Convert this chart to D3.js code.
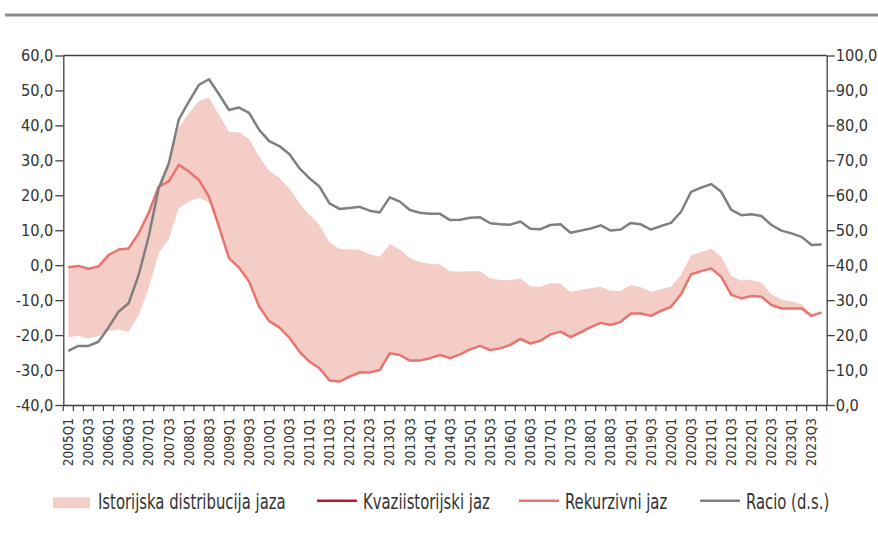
<!DOCTYPE html>
<html>
<head>
<meta charset="utf-8">
<script src="https://cdn.jsdelivr.net/npm/d3@7"></script>
<style>
  body { margin: 0; background: #fff; }
  text { font-family: "DejaVu Sans Condensed", "Liberation Sans Narrow", sans-serif; fill: #333; }
</style>
</head>
<body>
<svg id="chart"></svg>
<script>
// quarters 2005Q1 .. 2023Q4
const years = d3.range(2005, 2024);
const quarters = years.flatMap(y => [1, 2, 3, 4].map(q => y + "Q" + q));
const labelQuarters = quarters.filter((d, i) => i % 2 === 0);

// Rekurzivni jaz (left axis)
const rekurzivni = [
  -0.6, -0.2, -1.0, -0.4, 2.9, 4.5, 4.8, 9.1, 15.0, 22.5,
  24.0, 28.7, 26.8, 24.4, 19.6, 11.0, 2.0, -0.7, -4.7, -11.9,
  -16.0, -17.8, -20.7, -24.7, -27.6, -29.5, -33.0, -33.3, -31.9, -30.7,
  -30.7, -30.0, -25.2, -25.7, -27.3, -27.3, -26.6, -25.7, -26.6, -25.5,
  -24.1, -23.1, -24.3, -23.8, -22.8, -21.1, -22.4, -21.6, -19.8, -19.0,
  -20.6, -19.2, -17.7, -16.5, -17.1, -16.2, -13.8, -13.8, -14.5, -13.1,
  -11.9, -8.3, -2.6, -1.7, -0.9, -3.3, -8.5, -9.5, -8.8, -9.0,
  -11.4, -12.4, -12.4, -12.4, -14.5, -13.5
];

// Racio (right axis)
const racio = [
  15.5, 16.9, 16.9, 18.1, 22.2, 26.7, 29.1, 37.2, 48.2, 62.0,
  69.1, 81.7, 86.8, 91.6, 93.2, 88.9, 84.4, 85.1, 83.6, 78.7,
  75.5, 74.1, 71.8, 67.8, 64.9, 62.5, 57.7, 56.1, 56.4, 56.7,
  55.6, 55.1, 59.4, 58.2, 55.8, 55.0, 54.7, 54.7, 52.9, 53.0,
  53.6, 53.7, 52.0, 51.7, 51.6, 52.5, 50.4, 50.3, 51.5, 51.7,
  49.3, 49.9, 50.5, 51.4, 49.9, 50.2, 52.1, 51.7, 50.2, 51.2,
  52.1, 55.3, 61.0, 62.2, 63.2, 61.0, 55.8, 54.3, 54.6, 54.1,
  51.5, 49.9, 49.1, 48.1, 45.8, 45.9
];

// Istorijska distribucija jaza - upper and lower bound
const bandHigh = [
  -0.6, -0.2, -1.0, -0.4, 2.9, 4.5, 4.8, 9.1, 15.0, 22.7,
  30.0, 39.4, 43.5, 47.0, 48.0, 43.0, 38.2, 38.0, 36.2, 31.0,
  27.0, 25.0, 22.0, 17.7, 14.4, 11.5, 6.5, 4.6, 4.5, 4.4,
  3.1, 2.4, 6.1, 4.5, 2.0, 0.9, 0.4, 0.2, -1.7, -1.8,
  -1.7, -1.7, -3.7, -4.2, -4.3, -3.8, -6.0, -6.2, -5.2, -5.3,
  -7.7, -7.1, -6.6, -6.2, -7.3, -7.3, -5.7, -6.3, -7.6, -6.9,
  -6.2, -2.8, 2.9, 3.7, 4.8, 2.4, -3.1, -4.4, -4.2, -5.0,
  -8.3, -9.8, -10.4, -11.2, -14.0, -13.5
];
const bandLow = [
  -20.6, -20.2, -21.0, -20.3, -18.8, -18.4, -19.1, -14.3, -6.6, 3.4,
  7.4, 16.3, 18.2, 19.2, 18.0, 11.0, 2.0, -0.7, -4.7, -11.9,
  -16.0, -17.8, -20.7, -24.7, -27.6, -29.5, -33.0, -33.3, -31.9, -30.7,
  -30.7, -30.0, -25.2, -25.7, -27.3, -27.3, -26.6, -25.7, -26.6, -25.5,
  -24.1, -23.1, -24.3, -23.8, -22.8, -21.1, -22.4, -21.6, -19.8, -19.0,
  -20.6, -19.2, -17.7, -16.5, -17.1, -16.2, -13.8, -13.8, -14.5, -13.1,
  -11.9, -8.3, -2.6, -1.7, -0.9, -3.3, -8.5, -9.5, -8.8, -9.0,
  -11.4, -12.4, -12.4, -12.4, -14.5, -13.5
];

const leftTicks = d3.range(-40, 61, 10);
const rightTicks = d3.range(0, 101, 10);

const legendItems = [
  {name: "Istorijska distribucija jaza", type: "area", color: "#f5cdc7", x: 53},
  {name: "Kvaziistorijski jaz", type: "line", color: "#c8102e", x: 317},
  {name: "Rekurzivni jaz", type: "line", color: "#e8736f", x: 519},
  {name: "Racio (d.s.)", type: "line", color: "#808080", x: 700}
];

const W = 878, H = 544;
const margin = {top: 55.5, right: 51.3, bottom: 139, left: 63.3};

const svg = d3.select("#chart").attr("width", W).attr("height", H);

// top rule
svg.append("line")
  .attr("x1", 5).attr("x2", W).attr("y1", 15).attr("y2", 15)
  .attr("stroke", "#8c8c8c").attr("stroke-width", 3);

const x = d3.scaleBand().domain(quarters).range([margin.left, W - margin.right]);
const cx = q => x(q) + x.bandwidth() / 2;
const yL = d3.scaleLinear().domain([-40, 60]).range([H - margin.bottom, margin.top]);
const yR = d3.scaleLinear().domain([0, 100]).range([H - margin.bottom, margin.top]);
const fmt = d => d.toFixed(1).replace(".", ",");

// band
const area = d3.area()
  .x((d, i) => cx(quarters[i]))
  .y0((d, i) => yL(bandLow[i]))
  .y1((d, i) => yL(bandHigh[i]));
svg.append("path").datum(quarters).attr("d", area).attr("fill", "#f5cdc7");

// lines
const lineL = d3.line().x((d, i) => cx(quarters[i])).y(d => yL(d));
const lineR = d3.line().x((d, i) => cx(quarters[i])).y(d => yR(d));
svg.append("path").datum(rekurzivni).attr("d", lineL)
  .attr("fill", "none").attr("stroke", "#e8736f").attr("stroke-width", 2.5)
  .attr("stroke-linejoin", "round");
svg.append("path").datum(racio).attr("d", lineR)
  .attr("fill", "none").attr("stroke", "#7f7f7f").attr("stroke-width", 2.5)
  .attr("stroke-linejoin", "round");

// frame top
svg.append("line")
  .attr("x1", margin.left).attr("x2", W - margin.right)
  .attr("y1", margin.top).attr("y2", margin.top)
  .attr("stroke", "#404040").attr("stroke-width", 1.3);

// axes
const axisColor = "#404040";
const fontStack = '"DejaVu Sans Condensed", "Liberation Sans Narrow", sans-serif';
const gL = svg.append("g").attr("transform", `translate(${margin.left},0)`)
  .call(d3.axisLeft(yL).tickValues(leftTicks).tickFormat(fmt).tickSize(8).tickSizeOuter(0).tickPadding(2));
const gR = svg.append("g").attr("transform", `translate(${W - margin.right},0)`)
  .call(d3.axisRight(yR).tickValues(rightTicks).tickFormat(fmt).tickSize(8).tickSizeOuter(0).tickPadding(1));
[gL, gR].forEach(g => {
  g.select(".domain").attr("stroke", axisColor).attr("stroke-width", 1.3);
  g.selectAll(".tick line").attr("stroke", axisColor).attr("stroke-width", 1.3);
  g.selectAll("text").attr("font-size", 16.2).attr("fill", "#333").style("font-family", fontStack);
});

const gX = svg.append("g").attr("transform", `translate(0,${H - margin.bottom})`)
  .call(d3.axisBottom(x).tickValues(labelQuarters).tickSize(0).tickSizeOuter(0));
gX.select(".domain").attr("stroke", axisColor).attr("stroke-width", 1.3);
gX.selectAll("text")
  .attr("transform", "rotate(-90)")
  .attr("x", -13).attr("y", 0).attr("dy", "0.35em")
  .attr("text-anchor", "end")
  .attr("font-size", 13.5).attr("fill", "#333")
  .style("font-family", fontStack);

// quarter ticks at category boundaries
const bounds = quarters.map(q => x(q)).concat([x.range()[1]]);
gX.selectAll(".qtick").data(bounds).join("line")
  .attr("class", "qtick")
  .attr("x1", d => d).attr("x2", d => d)
  .attr("y1", 0).attr("y2", 6)
  .attr("stroke", axisColor).attr("stroke-width", 1.2);

// legend (condensed text)
const legY = 503;
const leg = svg.append("g");
legendItems.forEach(it => {
  const g = leg.append("g").attr("transform", `translate(${it.x},${legY})`);
  if (it.type === "area") {
    g.append("rect").attr("x", 0).attr("y", -5.7).attr("width", 37).attr("height", 11).attr("fill", it.color);
  } else {
    g.append("line").attr("x1", 0).attr("x2", 40).attr("y1", -2.3).attr("y2", -2.3)
      .attr("stroke", it.color).attr("stroke-width", 2.5);
  }
  g.append("text")
    .attr("transform", `translate(${it.type === "area" ? 45 : 46},6.3) scale(0.75,1)`)
    .attr("font-size", 22).text(it.name);
});
</script>
</body>
</html>
